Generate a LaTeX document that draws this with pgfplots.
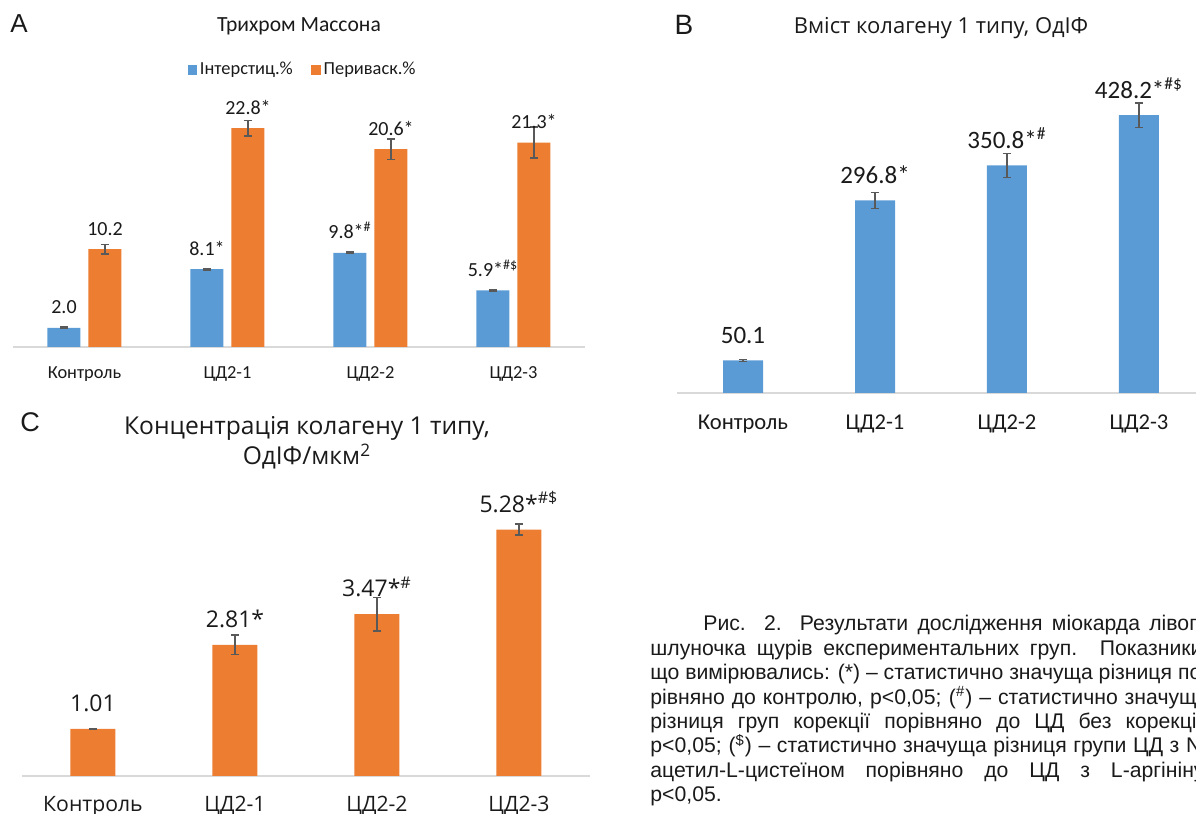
\documentclass[border=0pt]{standalone}
\usepackage{fontspec}
\setmainfont{Carlito}
\newfontfamily\osans{Open Sans}
\newfontfamily\arial{Liberation Sans}
\usepackage{pgfplots}
\usepackage{pgfplotstable}
\pgfplotsset{compat=1.18}
\definecolor{xblue}{HTML}{5B9BD5}
\definecolor{xorange}{HTML}{ED7D31}
\definecolor{errgray}{HTML}{595959}
\definecolor{axgray}{HTML}{D9D9D9}
\definecolor{txt}{HTML}{1A1A1A}
\newcommand{\hs}{\textsuperscript{\#}}
\newcommand{\hsd}{\textsuperscript{\#\$}}
\newcommand{\capfont}{\arial\fontsize{10.6}{12.2}\selectfont}
\newlength{\capw}

\pgfplotstableread{
x y err lab
0 2.0 0.08 2.0
1 8.1 0.08 8.1*
2 9.8 0.08 9.8*\hs
3 5.9 0.08 5.9*\hsd
}\Ablue
\pgfplotstableread{
x y err lab
0 10.2 0.5 10.2
1 22.8 0.8 22.8*
2 20.6 1.05 20.6*
3 21.3 1.6 21.3*
}\Aorange
\pgfplotstableread{
x y err lab
0 50.1 1.5 50.1
1 296.8 12.5 296.8*
2 350.8 18.5 350.8*\hs
3 428.2 19 428.2*\hsd
}\Bdata
\pgfplotstableread{
x y err lab
0 1.01 0.01 1.01
1 2.81 0.21 2.81*
2 3.47 0.36 3.47*\hs
3 5.28 0.12 5.28*\hsd
}\Cdata

\pgfplotsset{
  panel/.style={
    scale only axis, clip=false,
    xmin=-0.5, xmax=3.5, ymin=0,
    axis x line*=bottom, axis y line=none,
    x axis line style={draw=axgray, line width=0.9pt, -},
    xtick={0,1,2,3},
    xticklabels={Контроль,ЦД2-1,ЦД2-2,ЦД2-3},
    major tick length=0pt,
    ytick=\empty,
    xticklabel style={anchor=base, inner sep=0pt, text=txt},
    ybar,
    error bars/y dir=both, error bars/y explicit,
    error bars/error bar style={draw=errgray, line width=0.75pt},
    error bars/error mark options={rotate=90, draw=errgray, line width=0.75pt, mark size=2.1pt},
    point meta=explicit symbolic,
    nodes near coords,
    every node near coord/.append style={inner sep=0pt, text=txt},
  },
}

\begin{document}%
\settowidth{\capw}{\capfont що вимірювались: (*) – статистично значуща різниця по-}%
\begin{tikzpicture}
\useasboundingbox (0,0) rectangle (598pt,407pt);
\clip (0,0) rectangle (598pt,407pt);

% ---------------- Panel A ----------------
\node[font=\arial\fontsize{13}{14}\selectfont, text=txt] at (9.5pt,395pt) {A};
\node[font=\fontsize{10.8}{12}\selectfont, text=txt] at (149.5pt,394pt) {Трихром Массона};
\begin{axis}[panel, at={(6.5pt,233.5pt)}, anchor=south west,
  width=286pt, height=120pt, ymax=25, bar width=16.5pt,
  xticklabel style={font=\fontsize{9.2}{10}\selectfont, yshift=-15.9pt},
  every node near coord/.append style={font=\fontsize{10}{11}\selectfont, yshift=6.7pt},
  legend style={at={(0.507,1.154)}, anchor=center, draw=none, fill=none,
    font=\fontsize{9.2}{10}\selectfont, text=txt, inner sep=0pt,
    /tikz/every even column/.append style={column sep=8pt},
    nodes={inner sep=1.3pt}},
  legend columns=2,
]
\addplot[fill=xblue, draw=none, bar shift=-10.25pt,
  legend image code/.code={\fill[xblue] (0pt,-2.4pt) rectangle (4.8pt,2.4pt);}]
  table[x=x, y=y, y error=err, meta=lab] {\Ablue};
\addlegendentry{Інтерстиц.\%}
\addplot[fill=xorange, draw=none, bar shift=10.25pt,
  legend image code/.code={\fill[xorange] (0pt,-2.4pt) rectangle (4.8pt,2.4pt);}]
  table[x=x, y=y, y error=err, meta=lab] {\Aorange};
\addlegendentry{Периваск.\%}
\end{axis}

% ---------------- Panel B ----------------
\node[font=\arial\fontsize{14}{15}\selectfont, text=txt] at (342pt,394.5pt) {B};
\node[font=\osans\fontsize{11}{12}\selectfont, text=txt] at (470.5pt,393pt) {Вміст колагену 1 типу, ОдІФ};
\begin{axis}[panel, at={(338.5pt,210.5pt)}, anchor=south west,
  width=264pt, height=146pt, ymax=450, bar width=20pt,
  xticklabel style={font=\fontsize{11.3}{12}\selectfont, yshift=-18.5pt},
  every node near coord/.append style={font=\fontsize{12.5}{13}\selectfont, yshift=8.25pt},
]
\addplot[fill=xblue, draw=none, bar shift=0pt]
  table[x=x, y=y, y error=err, meta=lab] {\Bdata};
\end{axis}

% ---------------- Panel C ----------------
\node[font=\arial\fontsize{13.5}{14}\selectfont, text=txt] at (15pt,196pt) {C};
\node[font=\osans\fontsize{12.3}{15}\selectfont, text=txt, align=center] at (153.5pt,185.5pt)
  {Концентрація колагену 1 типу,\\ ОдІФ/мкм\textsuperscript{2}};
\begin{axis}[panel, at={(11pt,19pt)}, anchor=south west,
  width=284pt, height=140pt, ymax=6, bar width=22.5pt,
  xticklabel style={font=\osans\fontsize{10.6}{12}\selectfont, yshift=-17.6pt},
  every node near coord/.append style={font=\osans\fontsize{11.5}{12}\selectfont, yshift=8.25pt},
]
\addplot[fill=xorange, draw=none, bar shift=0pt]
  table[x=x, y=y, y error=err, meta=lab] {\Cdata};
\end{axis}

% ---------------- Caption ----------------
\begin{scope}[every node/.style={anchor=base west, inner sep=0pt, text=txt, font=\capfont}]
\node at (325pt,91.5pt) {\makebox[\capw][s]{\hspace*{26.5pt}Рис. 2. Результати дослідження міокарда лівого}};
\node at (325pt,79.3pt) {\makebox[\capw][s]{шлуночка щурів експериментальних груп. Показники,}};
\node at (325pt,67.1pt) {\makebox[\capw][s]{що вимірювались: (*) – статистично значуща різниця по-}};
\node at (325pt,54.9pt) {\makebox[\capw][s]{рівняно до контролю, p<0,05; (\textsuperscript{\#}) – статистично значуща}};
\node at (325pt,42.7pt) {\makebox[\capw][s]{різниця груп корекції порівняно до ЦД без корекції,}};
\node at (325pt,30.5pt) {\makebox[\capw][s]{p<0,05; (\textsuperscript{\$}) – статистично значуща різниця групи ЦД з N-}};
\node at (325pt,18.3pt) {\makebox[\capw][s]{ацетил-L-цистеїном порівняно до ЦД з L-аргініну,}};
\node at (325pt,6.1pt) {p<0,05.};
\end{scope}
\end{tikzpicture}%
\end{document}
